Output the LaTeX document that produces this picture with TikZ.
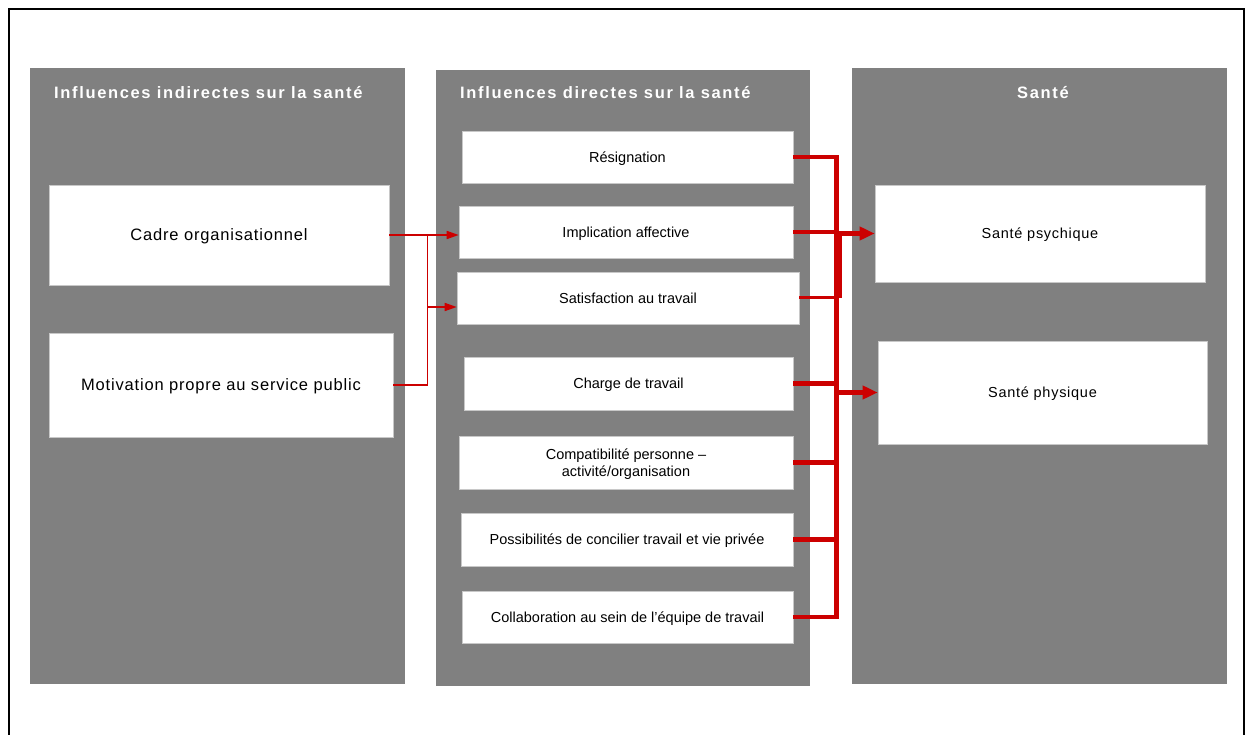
\documentclass[tikz,border=0pt]{standalone}
\usepackage{fontspec}
\setmainfont{Liberation Sans}
\newfontfamily\widesans[LetterSpace=5]{Liberation Sans}
\newfontfamily\titlesans[LetterSpace=10]{Liberation Sans}
\usetikzlibrary{arrows.meta,calc}
\definecolor{panelgray}{HTML}{808080}
\definecolor{boxline}{HTML}{C8C8C8}
\definecolor{linkred}{HTML}{CC0000}

\begin{document}
\begin{tikzpicture}[x=1pt, y=-1pt,
    panel/.style={fill=panelgray, inner sep=0, minimum width=375pt, minimum height=616pt},
    head/.style={text=white, inner sep=0, font=\titlesans\bfseries\fontsize{16.5}{19}\selectfont},
    outer/.style={fill=white, draw=boxline, line width=0.6pt, inner sep=0, align=center,
      text depth=0pt, font=\widesans\fontsize{16.5}{19}\selectfont},
    factor/.style={fill=white, draw=boxline, line width=0.6pt, inner sep=0, minimum height=52pt,
      align=center, text depth=0pt, font=\fontsize{14.5}{17}\selectfont},
    health/.style={outer, font=\widesans\fontsize{14.5}{17}\selectfont},
    link/.style={color=linkred, line width=1.6pt},
    feed/.style={color=linkred, line width=4.5pt},
  ]
    \useasboundingbox (0,0) rectangle (1250,735);
    % frame round the figure (its bottom edge is cut off)
    \draw[line width=1.5pt] (9,735) -- (9,9) -- (1244,9) -- (1244,735);

    % three grey columns
    \node[panel] (indirect) at (217.5,376) {};
    \node[panel, minimum width=374pt] (direct) at (623,378) {};
    \node[panel] (sante) at (1039.5,376) {};

    \node[head, anchor=west] (indirecthead) at (54,93) {Influences indirectes sur la santé};
    \node[head, anchor=west] (directhead) at (460,93) {Influences directes sur la santé};
    \node[head] (santehead) at (1043,93) {Santé};

    % indirect influences
    \node[outer, minimum width=340pt, minimum height=100pt] (cadre) at (219,235) {Cadre organisationnel};
    \node[outer, minimum width=344pt, minimum height=104pt] (motiv) at (221,385) {Motivation propre au service public};

    % direct influences
    \node[factor, minimum width=331pt] (resig) at (627.5,157) {Résignation};
    \node[factor, minimum width=334pt] (impl) at (626,232) {Implication affective};
    \node[factor, minimum width=342pt] (satis) at (628,298) {Satisfaction au travail};
    \node[factor, minimum width=329pt, minimum height=53pt] (charge) at (628.5,383.5) {Charge de travail};
    \node[factor, minimum width=334pt, minimum height=53pt] (compat) at (626,462.5) {Compatibilité personne --\\activité/organisation};
    \node[factor, minimum width=332pt, minimum height=53pt] (possib) at (627,539.5) {Possibilités de concilier travail et vie privée};
    \node[factor, minimum width=331pt] (collab) at (627.5,617) {Collaboration au sein de l'équipe de travail};

    % health
    \node[health, minimum width=330pt, minimum height=97pt] (psych) at (1040,233.5) {Santé psychique};
    \node[health, minimum width=329pt, minimum height=103pt] (phys) at (1042.5,392.5) {Santé physique};

    % left connectors
    \coordinate (split) at ($(cadre.east)+(38,0)$);
    \coordinate (satisin) at ([yshift=-9pt]satis.west);
    \draw[link, -{Triangle[length=12pt,width=8pt]}] (cadre.east) -- (cadre.east -| impl.west);
    \draw[link, line width=1.2pt] (motiv.east) -| (split);
    \draw[link, -{Triangle[length=12pt,width=8pt]}] (satisin -| split) -- (satisin);

    % right connectors
    \coordinate (bustop) at ($(resig.east)+(43,0)$);
    \draw[feed] (resig.east) -| (bustop |- collab.east) -- (collab.east);
    \foreach \f in {impl,charge,compat,possib}
      \draw[feed] (\f.east) -- (\f.east -| bustop);
    \draw[feed, line width=3pt] (satis.east) -- (satis.east -| bustop);
    \draw[feed, line width=3pt] ([xshift=4pt]bustop |- impl.east) -- ([xshift=4pt]bustop |- satis.east);
    \draw[feed, -{Triangle[length=15pt,width=13pt]}] (bustop |- psych.west) -- (psych.west);
    \draw[feed, -{Triangle[length=15pt,width=13pt]}] (bustop |- phys.west) -- (phys.west);
\end{tikzpicture}
\end{document}
